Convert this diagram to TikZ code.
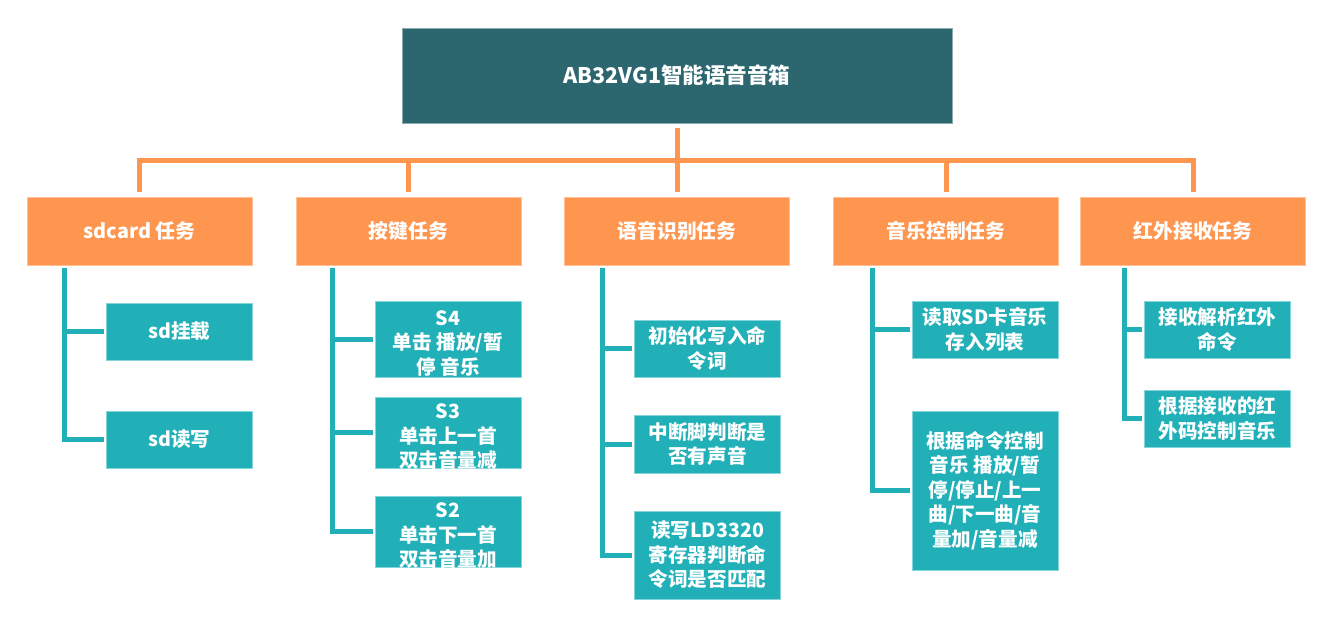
\documentclass[tikz,border=0pt]{standalone}
\usepackage{fontspec}
\setmainfont{Noto Sans CJK SC}
\usepackage{xcolor}
\usetikzlibrary{positioning}

\definecolor{rootteal}{RGB}{44,103,112}
\definecolor{taskorange}{RGB}{255,150,80}
\definecolor{leafteal}{RGB}{33,176,184}

% text that runs past the bottom of a fixed-height box
\newcommand{\overtext}[2]{\parbox[c][#1][c]{146pt}{\centering\vspace*{9pt}#2}}

\begin{document}
\begin{tikzpicture}[x=1pt, y=-1pt,
  root/.style={rectangle, fill=rootteal, draw=rootteal!55!white, line width=0.6pt, minimum width=550pt, minimum height=95pt, inner sep=0pt, text=white, font=\bfseries\fontsize{21.5}{28}\selectfont},
  task/.style={rectangle, fill=taskorange, draw=taskorange!60!white, line width=0.6pt, minimum width=225pt, minimum height=68pt, inner sep=0pt, text=white, font=\bfseries\fontsize{19.8}{25}\selectfont},
  leaf/.style={rectangle, fill=leafteal, draw=leafteal!55!white, line width=0.6pt, minimum width=146pt, inner sep=0pt, align=center, text=white, font=\bfseries\fontsize{19.6}{24.5}\selectfont},
  bus/.style={draw=taskorange, line width=5pt, shorten <=5pt, shorten >=5pt},
  stem/.style={draw=leafteal, line width=5pt, shorten >=2pt}
]
\useasboundingbox (0,0) rectangle (1333,627);

\node[root] (root) at (677,75.5) {AB32VG1智能语音音箱};

% task row
\node[task] (sd) at (139.5,231) {sdcard 任务};
\node[task] (key) at (408.5,231) {按键任务};
\node[task] (voice) at (677,231) {语音识别任务};
\node[task] (music) at (946,231) {音乐控制任务};
\node[task] (ir) at (1193,231) {红外接收任务};

% leaves
\node[leaf, minimum height=57pt] (sd1) at (179.5,331.5) {sd挂载};
\node[leaf, minimum height=57pt] (sd2) at (179.5,439.5) {sd读写};

\node[leaf] (key1) at (448,339) {\overtext{76pt}{S4\\单击 播放/暂\\停 音乐}};
\node[leaf] (key2) at (448,432.5) {\overtext{71pt}{S3\\单击上一首\\双击音量减}};
\node[leaf] (key3) at (448,531.5) {\overtext{71pt}{S2\\单击下一首\\双击音量加}};

\node[leaf, minimum height=57pt] (voice1) at (707.5,348.5) {初始化写入命\\令词};
\node[leaf, minimum height=58pt] (voice2) at (707.5,444) {中断脚判断是\\否有声音};
\node[leaf, minimum height=88pt] (voice3) at (707.5,555) {读写LD3320\\寄存器判断命\\令词是否匹配};

\node[leaf, minimum height=57pt] (music1) at (985,329.5) {读取SD卡音乐\\存入列表};
\node[leaf, minimum height=159pt] (music2) at (985,490.5) {根据命令控制\\音乐 播放/暂\\停/停止/上一\\曲/下一曲/音\\量加/音量减};

\node[leaf, minimum height=57pt] (ir1) at (1217.5,329.5) {接收解析红外\\命令};
\node[leaf, minimum height=57pt] (ir2) at (1217.5,418.5) {根据接收的红\\外码控制音乐};

% orange bus
\coordinate (bus) at (677,160);
\foreach \t in {sd,key,voice,music,ir}
  \draw[bus] (root.south) -- (root.south |- bus) -| (\t.north);

% teal stems
\coordinate (sdstem) at (64,268);
\coordinate (keystem) at (332,268);
\coordinate (voicestem) at (602,268);
\coordinate (musicstem) at (872,268);
\coordinate (irstem) at (1124,268);
\foreach \s/\n in {sd/2,key/3,voice/3,music/2,ir/2}
  \foreach \i in {1,...,\n}
    \draw[stem] (\s stem) |- (\s\i.west);

\end{tikzpicture}
\end{document}
